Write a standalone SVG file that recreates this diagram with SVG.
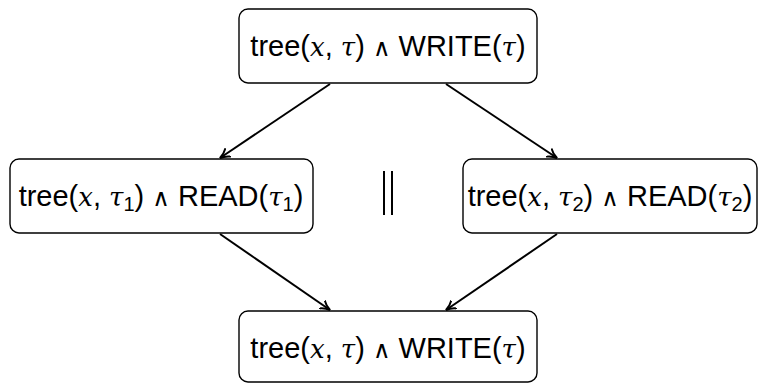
<svg xmlns="http://www.w3.org/2000/svg" width="762" height="384" viewBox="0 0 762 384">
  <defs>
    <style>
      .box { fill: #ffffff; stroke: #000000; stroke-width: 1.4; }
      .lbl { font-family: "Liberation Sans", "DejaVu Sans", sans-serif; font-size: 29px; fill: #000000; text-anchor: middle; }
      .m { font-family: "DejaVu Serif", "Liberation Serif", serif; font-style: italic; font-size: 26px; }
      .w { font-weight: normal; font-size: 24px; }
      .sub { font-size: 20px; }
      .edge { stroke: #000000; stroke-width: 2; fill: none; marker-end: url(#arrow); }
      .par { stroke: #000000; stroke-width: 2; }
    </style>
    <!-- curved "to"-style arrow tip -->
    <marker id="arrow" viewBox="0 0 10 10" refX="9" refY="5" markerWidth="11" markerHeight="11" markerUnits="userSpaceOnUse" orient="auto">
      <path d="M0,0.5 Q4,4 9,5 Q4,6 0,9.5" fill="none" stroke="#000000" stroke-width="1.8"/>
    </marker>
  </defs>

  <g id="connectors">
    <line class="edge" x1="330" y1="84" x2="220" y2="158"/>
    <line class="edge" x1="446" y1="84" x2="557" y2="158"/>
    <line class="edge" x1="220" y1="234" x2="330" y2="310"/>
    <line class="edge" x1="557" y1="234" x2="446" y2="310"/>
  </g>

  <g id="write-top">
    <rect class="box" x="239" y="9" width="298" height="74" rx="9"/>
    <text class="lbl" x="388" y="56">tree(<tspan class="m">x</tspan>, <tspan class="m">τ</tspan>) <tspan class="w">∧</tspan> WRITE(<tspan class="m">τ</tspan>)</text>
  </g>

  <g id="read-left">
    <rect class="box" x="10" y="159" width="303" height="74" rx="9"/>
    <text class="lbl" x="161" y="206">tree(<tspan class="m">x</tspan>, <tspan class="m">τ</tspan><tspan class="sub" dy="5">1</tspan><tspan dy="-5">) </tspan><tspan class="w">∧</tspan> READ(<tspan class="m">τ</tspan><tspan class="sub" dy="5">1</tspan><tspan dy="-5">)</tspan></text>
  </g>

  <g id="parallel">
    <line class="par" x1="384" y1="171" x2="384" y2="215"/>
    <line class="par" x1="392" y1="171" x2="392" y2="215"/>
  </g>

  <g id="read-right">
    <rect class="box" x="463" y="159" width="294" height="74" rx="9"/>
    <text class="lbl" x="610" y="206">tree(<tspan class="m">x</tspan>, <tspan class="m">τ</tspan><tspan class="sub" dy="5">2</tspan><tspan dy="-5">) </tspan><tspan class="w">∧</tspan> READ(<tspan class="m">τ</tspan><tspan class="sub" dy="5">2</tspan><tspan dy="-5">)</tspan></text>
  </g>

  <g id="write-bottom">
    <rect class="box" x="239" y="311" width="298" height="71" rx="9"/>
    <text class="lbl" x="388" y="358">tree(<tspan class="m">x</tspan>, <tspan class="m">τ</tspan>) <tspan class="w">∧</tspan> WRITE(<tspan class="m">τ</tspan>)</text>
  </g>
</svg>
